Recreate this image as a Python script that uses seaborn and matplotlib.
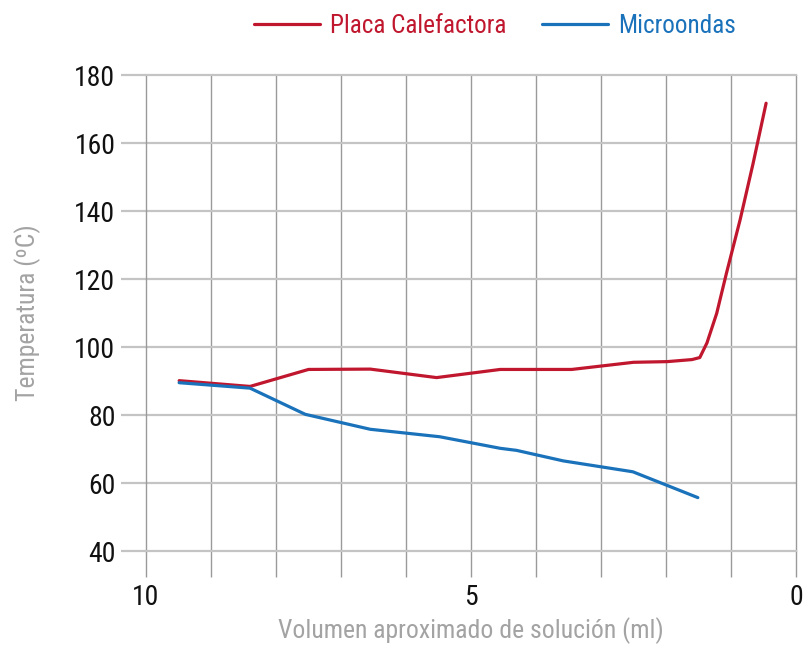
import matplotlib
matplotlib.use("Agg")
import matplotlib.pyplot as plt
from matplotlib import font_manager
import seaborn as sns
import pandas as pd

# Data
placa_x = [9.49, 8.4, 7.5, 6.55, 5.53, 4.55, 3.45, 2.5, 1.98, 1.6, 1.48, 1.37, 1.22, 1.07, 0.86, 0.66, 0.46]
placa_y = [90.1, 88.4, 93.4, 93.5, 91.0, 93.4, 93.4, 95.5, 95.7, 96.3, 96.9, 101.2, 109.9, 121.7, 137.4, 154.0, 171.7]
micro_x = [9.49, 8.4, 7.55, 6.55, 5.48, 4.55, 4.3, 3.58, 2.51, 1.51]
micro_y = [89.5, 87.9, 80.2, 75.8, 73.6, 70.2, 69.6, 66.5, 63.3, 55.7]
series_names = ["Placa Calefactora", "Microondas"]
colors = ["#c0172e", "#1a72bb"]
x_tick_labels = {10: "10", 5: "5", 0: "0"}
y_ticks = [40, 60, 80, 100, 120, 140, 160, 180]

df = pd.concat([
    pd.DataFrame({"x": placa_x, "y": placa_y, "serie": series_names[0]}),
    pd.DataFrame({"x": micro_x, "y": micro_y, "serie": series_names[1]}),
])

sns.set_theme(style="white")
avail = {f.name for f in font_manager.fontManager.ttflist}
fam = next((f for f in ["Liberation Sans Narrow", "Roboto Condensed", "Roboto", "Liberation Sans"] if f in avail), "DejaVu Sans")
plt.rcParams["font.family"] = [fam, "DejaVu Sans"]

fig = plt.figure(figsize=(8.04, 6.46), dpi=100)
ax = fig.add_axes([146 / 804, (646 - 551) / 646, 650 / 804, (551 - 75) / 646])

for name, c in zip(series_names, colors):
    sub = df[df["serie"] == name]
    sns.lineplot(data=sub, x="x", y="y", color=c, sort=False, estimator=None,
                 linewidth=2.3, ax=ax, label=name, legend=False, zorder=3)

ax.set_xlim(10, 0)
ax.set_ylim(40, 180)
ax.set_xticks(range(0, 11))
ax.set_xticklabels([x_tick_labels.get(i, "") for i in range(0, 11)])
ax.set_yticks(y_ticks)
ax.set_yticklabels([str(v) for v in y_ticks])

ax.grid(False)
for v in range(1, 10):
    ax.axvline(v, color="#9a9a9a", lw=1.0, zorder=1)
for v in y_ticks[1:-1]:
    ax.axhline(v, color="#c4c4c4", lw=1.6, zorder=1)

for s in ["top", "bottom"]:
    ax.spines[s].set_color("#c4c4c4")
    ax.spines[s].set_linewidth(1.6)
for s in ["left", "right"]:
    ax.spines[s].set_color("#9a9a9a")
    ax.spines[s].set_linewidth(1.0)

ax.tick_params(axis="x", direction="out", length=19, width=1.0, color="#9a9a9a",
               labelsize=20, labelcolor="#111111", pad=5, bottom=True)
ax.tick_params(axis="y", direction="out", length=18, width=1.6, color="#c4c4c4",
               labelsize=20, labelcolor="#111111", pad=4, left=True)

ax.set_xlabel("Volumen aproximado de solución (ml)", fontsize=18.5, color="#a3a3a3", labelpad=4)
ax.set_ylabel("Temperatura (ºC)", fontsize=18.5, color="#a3a3a3", labelpad=24)

handles, labels = ax.get_legend_handles_labels()
leg = fig.legend(handles, labels, loc="center", bbox_to_anchor=(495 / 804, 1 - 26 / 646), ncol=2,
                 frameon=False, fontsize=18.2, handlelength=2.6, handletextpad=0.4, columnspacing=1.4)
for t, c in zip(leg.get_texts(), colors):
    t.set_color(c)

fig.savefig("out.png", dpi=100)
